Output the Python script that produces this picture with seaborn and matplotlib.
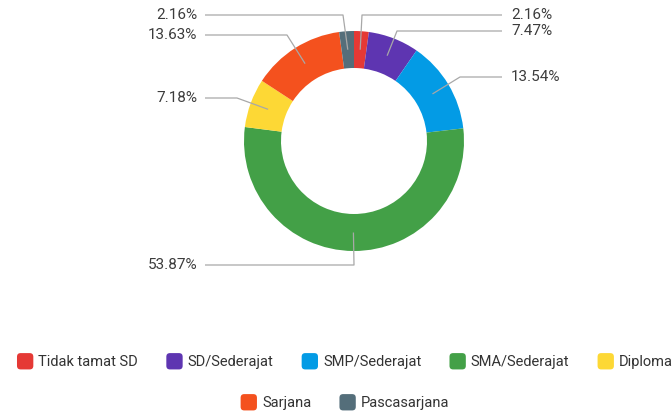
import numpy as np
import matplotlib
matplotlib.use("Agg")
import matplotlib.pyplot as plt
import seaborn as sns
from matplotlib.legend_handler import HandlerPatch
from matplotlib.patches import FancyBboxPatch

# ---- data ----
categories = ["Tidak tamat SD", "SD/Sederajat", "SMP/Sederajat", "SMA/Sederajat",
              "Diploma", "Sarjana", "Pascasarjana"]
values = [2.16, 7.47, 13.54, 53.87, 7.18, 13.63, 2.16]
colors = ["#E53935", "#5E35B1", "#039BE5", "#43A047", "#FDD835", "#F4511E", "#546E7A"]

# ---- style ----
sns.set_theme(style="white")
plt.rcParams["font.family"] = ["Roboto", "DejaVu Sans"]
palette = sns.color_palette(colors)

W, H = 672, 413
fig = plt.figure(figsize=(W / 100, H / 100), dpi=100)
ax = fig.add_axes([0, 0, 1, 1])

def Y(py):
    return H - py

cx, cy, R, ring = 354, Y(141), 110, 37
wedges, _ = ax.pie(values, colors=palette, startangle=90, counterclock=False,
                   center=(cx, cy), radius=R,
                   wedgeprops=dict(width=ring, linewidth=0))
ax.set_xlim(0, W)
ax.set_ylim(0, H)
ax.set_aspect("equal")
ax.axis("off")

# label layout: (elbow x, elbow y, text side) in pixel coords
elbows = [(362, 15, "r"), (397, 31, "r"), (460, 77, "r"), (354, 265, "l"),
          (237, 98, "l"), (287, 35, "l"), (343, 15, "l")]
left_end, right_end = 205, 502
left_text, right_text = 197, 511
line_col = "#a8a8a8"
txt_col = "#3c3c3c"

for w, v, (ex, ey, side) in zip(wedges, values, elbows):
    mid = np.deg2rad((w.theta1 + w.theta2) / 2)
    rm = R - ring / 2
    px, py = cx + rm * np.cos(mid), cy + rm * np.sin(mid)
    endx = right_end if side == "r" else left_end
    ax.plot([px, ex, endx], [py, Y(ey), Y(ey)], color=line_col, lw=0.9,
            solid_capstyle="butt", zorder=1)
    if side == "r":
        ax.text(right_text, Y(ey), f"{v:.2f}%", ha="left", va="center",
                fontsize=11, color=txt_col)
    else:
        ax.text(left_text, Y(ey), f"{v:.2f}%", ha="right", va="center",
                fontsize=11, color=txt_col)


class RoundSquare(HandlerPatch):
    def create_artists(self, legend, orig_handle, xdescent, ydescent,
                       width, height, fontsize, trans):
        s = 1.12 * fontsize
        x0 = -xdescent + (width - s) / 2
        y0 = -ydescent + height / 2 - s / 2
        p = FancyBboxPatch((x0, y0), s, s,
                           boxstyle=f"round,pad=0,rounding_size={s * 0.22}",
                           facecolor=orig_handle.get_facecolor(),
                           edgecolor="none", transform=trans)
        return [p]


legend_kw = dict(frameon=False, fontsize=10.5, handlelength=1.12, handleheight=1.0,
                 handletextpad=0.35, columnspacing=1.93, borderpad=0, borderaxespad=0,
                 labelcolor="#333333", loc="center",
                 handler_map={type(wedges[0]): RoundSquare()})
fig.legend(wedges[:5], categories[:5], ncol=5,
           bbox_to_anchor=(345 / W, 1 - 362 / H), **legend_kw)
fig.legend(wedges[5:], categories[5:], ncol=2,
           bbox_to_anchor=(345 / W, 1 - 403 / H), **legend_kw)

fig.savefig("out.png", dpi=100)
